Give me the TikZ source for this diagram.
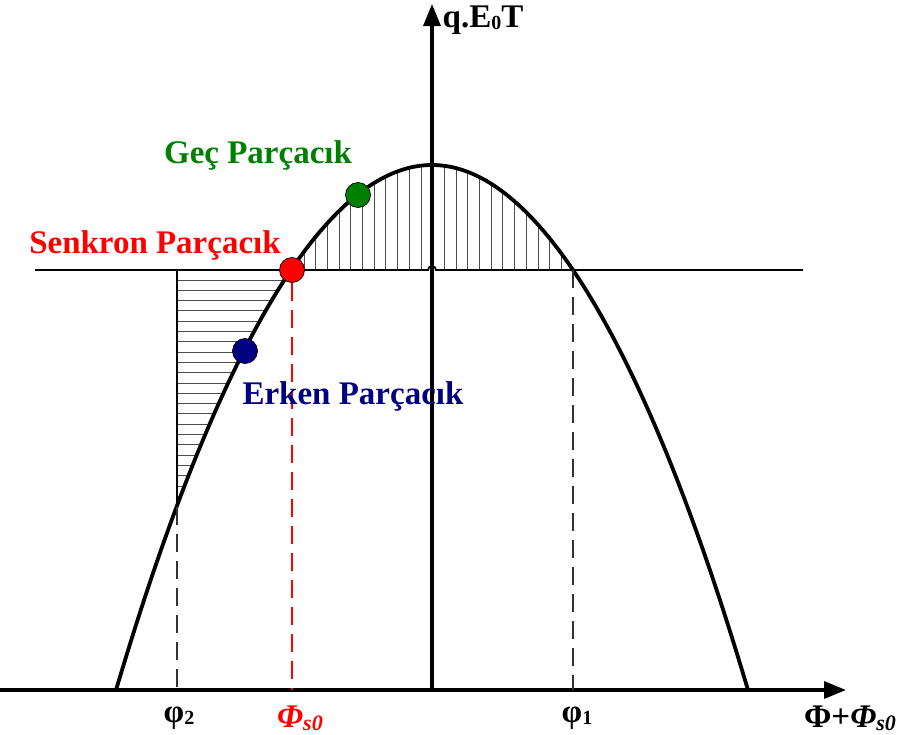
\documentclass[tikz,border=0pt]{standalone}
\usepackage{fontspec}
\setmainfont{Liberation Serif}
\usetikzlibrary{arrows.meta}
\definecolor{gecgreen}{RGB}{0,128,0}
\definecolor{erkenblue}{RGB}{0,0,128}
\begin{document}
\begin{tikzpicture}[x=1pt,y=-1pt,
  axis/.style={line width=3.4pt,-{Triangle[length=22pt,width=17pt]}},
  curve/.style={line width=3.8pt},
  hline/.style={line width=1.8pt},
  hatch/.style={line width=1pt,black!70},
  dashline/.style={line width=1.8pt,dash pattern=on 18pt off 9pt},
  dot/.style={circle,draw=black,line width=0.7pt,minimum size=25pt,inner sep=0pt},
  lbl/.style={font=\fontsize{33}{36}\selectfont\bfseries,inner sep=0pt},
  ticklbl/.style={font=\fontsize{33}{36}\selectfont\bfseries,inner sep=0pt}]
\useasboundingbox (0,0) rectangle (908,734);

% key coordinates
\coordinate (O) at (0,690);
\coordinate (xend) at (846,690);
\coordinate (ybase) at (432,690);
\coordinate (yend) at (432,4);
\coordinate (L) at (116,690);
\coordinate (top) at (432,165);
\coordinate (R) at (748,690);
\coordinate (hl) at (35,270);
\coordinate (hr) at (803,270);
\coordinate (c2) at (177,507);
\coordinate (c2top) at (177,270);
\coordinate (c1) at (573,270);

% vertical hatching
\foreach \x in {304,315.7,...,570} {
  \pgfmathsetmacro\yy{690-525*(1-((\x-432)/316)^2)}
  \draw[hatch] (\x,270) -- (\x,\yy);
}
% horizontal hatching
\foreach \y in {280,290.3,...,506} {
  \pgfmathsetmacro\xx{432-316*sqrt(1-(690-\y)/525)}
  \draw[hatch] (177,\y) -- (\xx,\y);
}
\draw[line width=1.4pt] (c2top) -- (c2);

% horizontal level line with small jump
\draw[hline] (hl) -- (428,270) arc[start angle=180,end angle=360,radius=4] -- (hr);

% axes
\draw[axis] (O) -- (xend);
\draw[axis] (ybase) -- (yend);

% curve
\draw[curve] (L) parabola bend (top) (R);

% dots
\node[dot,fill=red] (sync) at (292,270) {};
\node[dot,fill=gecgreen] (gec) at (358,195) {};
\node[dot,fill=erkenblue] (erken) at (245,351) {};

% dashed drops
\draw[dashline,black!80] (c2) -- (c2 |- O);
\draw[dashline,black!80] (c1) -- (c1 |- O);
\draw[dashline,red] (sync.south) -- (sync |- O);

% labels
\node[lbl,text=gecgreen] (lgec) at (258,155) {Geç Parçacık};
\node[lbl,text=red] (lsync) at (155,245) {Senkron Parçacık};
\node[lbl,text=erkenblue] (lerken) at (353,396) {Erken Parçacık};
\node[lbl] (lyaxis) at (483,20) {q.E\raisebox{-2pt}{\fontsize{20}{20}\selectfont 0}T};
\node[ticklbl] (lphi2) at (179,718) {φ\raisebox{-2pt}{\fontsize{20}{20}\selectfont 2}};
\node[ticklbl] (lphi1) at (577,718) {φ\raisebox{-2pt}{\fontsize{20}{20}\selectfont 1}};
\node[ticklbl,text=red] (lphis) at (300,718) {\itshape Φ\raisebox{-3pt}{\fontsize{22}{22}\selectfont s0}};
\node[ticklbl] (lxaxis) at (850,718) {Φ+\itshape Φ\raisebox{-3pt}{\fontsize{22}{22}\selectfont s0}};
\end{tikzpicture}
\end{document}
